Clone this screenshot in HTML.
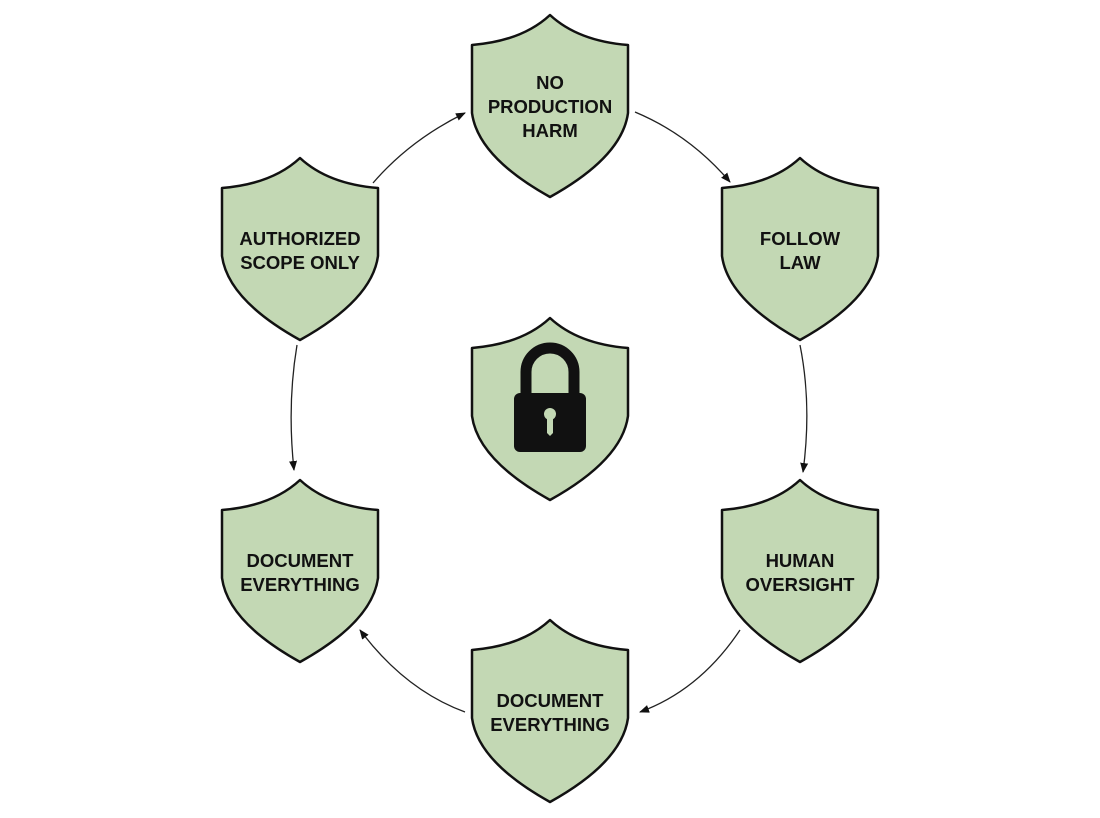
<!DOCTYPE html>
<html><head><meta charset="utf-8"><style>
html,body{margin:0;padding:0;background:#fff;width:1100px;height:818px;overflow:hidden}
svg text{font-family:"Liberation Sans",Arial,sans-serif;font-weight:bold;font-size:18.5px;fill:#111;text-anchor:middle}
</style></head><body>
<svg width="1100" height="818" viewBox="0 0 1100 818" xmlns="http://www.w3.org/2000/svg">
<defs>
<path id="sh" d="M78,0 Q50,26 0,30 L0,98 Q6,142 78,182 Q150,142 156,98 L156,30 Q106,26 78,0 Z" fill="#c3d8b4" stroke="#111" stroke-width="2.5" stroke-linejoin="round"/>
<marker id="ah" markerWidth="10" markerHeight="10" refX="9" refY="5" orient="auto" markerUnits="userSpaceOnUse">
<path d="M0,1 L10,5 L0,9 Z" fill="#111"/></marker>
</defs>
<g fill="none" stroke="#222" stroke-width="1.3" marker-end="url(#ah)">
<path d="M373,183 Q410,140 465,113"/>
<path d="M635,112 Q690,135 730,182"/>
<path d="M800,345 Q812,405 803,472"/>
<path d="M740,630 Q700,690 640,712"/>
<path d="M465,712 Q405,690 360,630"/>
<path d="M297,345 Q287,405 294,470"/>
</g>
<use href="#sh" x="472" y="15"/>
<use href="#sh" x="222" y="158"/>
<use href="#sh" x="722" y="158"/>
<use href="#sh" x="472" y="318"/>
<use href="#sh" x="222" y="480"/>
<use href="#sh" x="722" y="480"/>
<use href="#sh" x="472" y="620"/>
<text x="550" y="89">NO</text><text x="550" y="113">PRODUCTION</text><text x="550" y="137">HARM</text>
<text x="300" y="245">AUTHORIZED</text><text x="300" y="269">SCOPE ONLY</text>
<text x="800" y="245">FOLLOW</text><text x="800" y="269">LAW</text>
<text x="300" y="567">DOCUMENT</text><text x="300" y="591">EVERYTHING</text>
<text x="800" y="567">HUMAN</text><text x="800" y="591">OVERSIGHT</text>
<text x="550" y="707">DOCUMENT</text><text x="550" y="731">EVERYTHING</text>
<path d="M526,396 L526,372 A24,24 0 0 1 574,372 L574,396" fill="none" stroke="#111" stroke-width="11"/>
<rect x="514" y="393" width="72" height="59" rx="6" fill="#111"/>
<circle cx="550" cy="414" r="6" fill="#c3d8b4"/>
<path d="M547,416 L553,416 L553,433 L550,436 L547,433 Z" fill="#c3d8b4"/>
</svg>
</body></html>
